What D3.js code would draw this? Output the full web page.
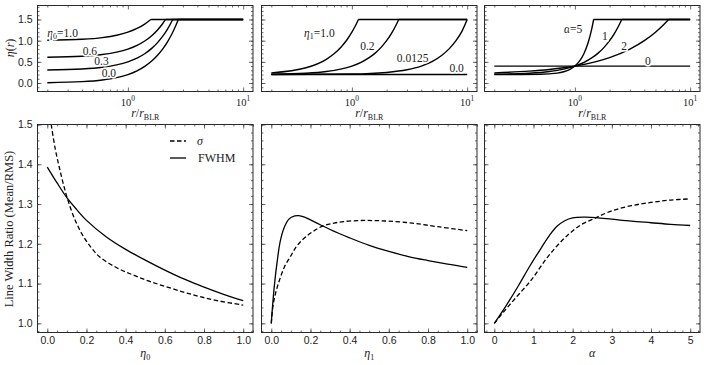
<!DOCTYPE html>
<html>
<head>
<meta charset="utf-8">
<script src="https://cdn.jsdelivr.net/npm/d3@7"></script>
<style>
  body { margin: 0; background: #fff; }
  svg { display: block; font-family: "Liberation Serif", "Times New Roman", serif; }
  .tick line { stroke: #444; stroke-width: 0.8; }
  .tick text { fill: #222; font-size: 10.5px; }
  .lbl { fill: #222; }
</style>
</head>
<body>
<script>
// ---- data ----
// top row: eta(r) profiles, [r/r_BLR, eta]
const etaA_10 = [[0.2,1.008],[0.4,1.032],[0.6,1.072],[0.8,1.128],[1.0,1.2],[1.2,1.288],[1.4,1.392],[1.58,1.5],[10,1.5]];
const etaA_06 = [[0.2,0.608],[0.4,0.632],[0.6,0.672],[0.8,0.728],[1.0,0.8],[1.2,0.888],[1.4,0.992],[1.6,1.112],[1.8,1.248],[2.0,1.4],[2.12,1.5],[10,1.5]];
const etaA_03 = [[0.2,0.308],[0.4,0.332],[0.6,0.372],[0.8,0.428],[1.0,0.5],[1.2,0.588],[1.4,0.692],[1.6,0.812],[1.8,0.948],[2.0,1.1],[2.2,1.268],[2.45,1.5],[10,1.5]];
const etaA_00 = [[0.2,0.008],[0.4,0.032],[0.6,0.072],[0.8,0.128],[1.0,0.2],[1.2,0.288],[1.4,0.392],[1.6,0.512],[1.8,0.648],[2.0,0.8],[2.2,0.968],[2.4,1.152],[2.6,1.352],[2.74,1.5],[10,1.5]];

const etaB_10 = [[0.2,0.24],[0.4,0.36],[0.6,0.56],[0.7,0.69],[0.8,0.84],[0.9,1.01],[1.0,1.2],[1.07,1.345],[1.14,1.5],[10,1.5]];
const etaB_02 = [[0.2,0.208],[0.4,0.232],[0.6,0.272],[0.8,0.328],[1.0,0.4],[1.2,0.488],[1.4,0.592],[1.6,0.712],[1.8,0.848],[2.0,1.0],[2.2,1.168],[2.4,1.352],[2.55,1.5],[10,1.5]];
const etaB_0125 = [[0.2,0.2005],[1.0,0.2125],[2.0,0.25],[3.0,0.312],[4.0,0.4],[5.0,0.512],[6.0,0.65],[7.0,0.812],[8.0,1.0],[9.0,1.22],[10,1.5]];
const etaB_00 = [[0.2,0.2],[10,0.2]];

const etaC_5 = [[0.2,0.2001],[0.5,0.206],[0.7,0.234],[0.8,0.266],[0.9,0.318],[1.0,0.4],[1.1,0.522],[1.2,0.698],[1.3,0.943],[1.4,1.276],[1.454,1.5],[10,1.5]];
const etaC_2 = [[0.2,0.208],[0.4,0.232],[0.6,0.272],[0.8,0.328],[1.0,0.4],[1.2,0.488],[1.4,0.592],[1.6,0.712],[1.8,0.848],[2.0,1.0],[2.2,1.168],[2.4,1.352],[2.55,1.5],[10,1.5]];
const etaC_1 = [[0.2,0.24],[0.4,0.28],[0.6,0.32],[0.8,0.36],[1.0,0.4],[1.5,0.5],[2,0.6],[3,0.8],[4,1.0],[5,1.2],[6,1.4],[6.5,1.5],[10,1.5]];
const etaC_0 = [[0.2,0.4],[10,0.4]];

// bottom row: line width ratio, sigma (dashed) and FWHM (solid)
const sigEta0  = [[0.02,1.50],[0.04,1.44],[0.06,1.395],[0.08,1.354],[0.105,1.31],[0.14,1.262],[0.18,1.222],[0.22,1.193],[0.265,1.168],[0.35,1.141],[0.436,1.122],[0.52,1.106],[0.607,1.092],[0.7,1.078],[0.78,1.067],[0.88,1.056],[1.0,1.046]];
const fwhmEta0 = [[0,1.393],[0.05,1.353],[0.1,1.316],[0.15,1.286],[0.2,1.259],[0.3,1.218],[0.4,1.186],[0.5,1.159],[0.6,1.134],[0.7,1.111],[0.8,1.091],[0.9,1.073],[1.0,1.057]];
const sigEta1  = [[0,1.0],[0.008,1.042],[0.022,1.076],[0.042,1.109],[0.068,1.143],[0.1,1.17],[0.128,1.193],[0.17,1.215],[0.213,1.231],[0.264,1.245],[0.32,1.252],[0.37,1.256],[0.45,1.2585],[0.52,1.2585],[0.6,1.257],[0.72,1.252],[0.85,1.243],[1.0,1.233]];
const fwhmEta1 = [[0,1.0],[0.01,1.065],[0.02,1.115],[0.03,1.155],[0.045,1.205],[0.065,1.24],[0.09,1.262],[0.12,1.27],[0.14,1.271],[0.17,1.267],[0.2,1.26],[0.25,1.248],[0.3,1.236],[0.4,1.215],[0.5,1.196],[0.6,1.181],[0.7,1.168],[0.8,1.158],[0.9,1.149],[1.0,1.141]];
const sigAlpha  = [[0,1.0],[0.3,1.036],[0.6,1.07],[0.95,1.11],[1.37,1.168],[1.8,1.215],[2.2,1.247],[2.56,1.264],[3.0,1.283],[3.5,1.296],[4.0,1.304],[4.5,1.31],[5.0,1.313]];
const fwhmAlpha = [[0,1.0],[0.3,1.044],[0.6,1.092],[0.9,1.143],[1.2,1.19],[1.4,1.22],[1.6,1.244],[1.8,1.258],[2.0,1.265],[2.3,1.267],[2.6,1.266],[3.0,1.262],[3.5,1.257],[4.0,1.253],[4.5,1.249],[5.0,1.246]];

// ticks
const rMajor = [1, 10];
const rMinor = [0.2,0.3,0.4,0.5,0.6,0.7,0.8,0.9,2,3,4,5,6,7,8,9];
const etaMajor = [0, 0.5, 1.0, 1.5];
const etaMinor = d3.range(-0.1, 1.81, 0.1);
const ratioMajor = [1.0, 1.1, 1.2, 1.3, 1.4, 1.5];
const ratioMinor = d3.range(0.98, 1.501, 0.02);
const unitMajor = [0, 0.2, 0.4, 0.6, 0.8, 1.0];
const unitMinor = d3.range(-0.05, 1.051, 0.05);
const alphaMajor = [0, 1, 2, 3, 4, 5];
const alphaMinor = d3.range(-0.2, 5.21, 0.2);

// ---- layout ----
const width = 706, height = 365;
const cols = [37.5, 261.5, 484.5], pw = 215.5;
const topRow = [91.5, 5.5], botRow = [332.5, 124.5];

const svg = d3.select("body").append("svg").attr("width", width).attr("height", height);

let clipId = 0;
function inside(sc, vals) {
  const [a, b] = d3.extent(sc.domain());
  return vals.filter(v => v >= a - 1e-9 && v <= b + 1e-9);
}
function axesFrame(x, y, o) {
  const [x0, x1] = x.range(), [yb, yt] = y.range();
  const g = svg.append("g");
  const fmtX = o.xFmt || (() => "");
  const fmtY = o.yFmt || (() => "");
  const xMin = inside(x, o.xMinor), xMaj = inside(x, o.xMajor);
  const yMin = inside(y, o.yMinor), yMaj = inside(y, o.yMajor);
  g.append("g").attr("transform", `translate(0,${yb})`)
    .call(d3.axisBottom(x).tickValues(xMin).tickSize(-2).tickSizeOuter(0).tickFormat(""));
  g.append("g").attr("transform", `translate(0,${yb})`)
    .call(d3.axisBottom(x).tickValues(xMaj).tickSize(-4).tickSizeOuter(0).tickPadding(4).tickFormat(fmtX));
  g.append("g").attr("transform", `translate(0,${yt})`)
    .call(d3.axisTop(x).tickValues(xMin).tickSize(-2).tickSizeOuter(0).tickFormat(""));
  g.append("g").attr("transform", `translate(0,${yt})`)
    .call(d3.axisTop(x).tickValues(xMaj).tickSize(-4).tickSizeOuter(0).tickFormat(""));
  g.append("g").attr("transform", `translate(${x0},0)`)
    .call(d3.axisLeft(y).tickValues(yMin).tickSize(-2).tickSizeOuter(0).tickFormat(""));
  g.append("g").attr("transform", `translate(${x0},0)`)
    .call(d3.axisLeft(y).tickValues(yMaj).tickSize(-4).tickSizeOuter(0).tickPadding(5).tickFormat(fmtY));
  g.append("g").attr("transform", `translate(${x1},0)`)
    .call(d3.axisRight(y).tickValues(yMin).tickSize(-2).tickSizeOuter(0).tickFormat(""));
  g.append("g").attr("transform", `translate(${x1},0)`)
    .call(d3.axisRight(y).tickValues(yMaj).tickSize(-4).tickSizeOuter(0).tickFormat(""));
  g.selectAll(".domain").remove();
  g.selectAll("text").attr("font-family", null).attr("font-size", null);
  g.append("rect").attr("x", x0).attr("y", yt).attr("width", x1 - x0).attr("height", yb - yt)
    .attr("fill", "none").attr("stroke", "#2a2a2a").attr("stroke-width", 1);

  const id = "clip" + (clipId++);
  svg.append("clipPath").attr("id", id).append("rect")
    .attr("x", x0).attr("y", yt).attr("width", x1 - x0).attr("height", yb - yt);
  return svg.append("g").attr("clip-path", `url(#${id})`);
}

// ---- top row ----
function topPanel(i, curves, showY) {
  const x = d3.scaleLog().domain([0.1644, 12.17]).range([cols[i], cols[i] + pw]);
  const y = d3.scaleLinear().domain([-0.2, 1.83]).range(topRow);
  const plot = axesFrame(x, y, {
    xMajor: rMajor, xMinor: rMinor, yMajor: etaMajor, yMinor: etaMinor,
    yFmt: showY ? d3.format(".1f") : null
  });
  // log tick labels 10^k
  rMajor.forEach(v => {
    const t = svg.append("text").attr("class", "lbl").attr("x", x(v)).attr("y", topRow[0] + 14)
      .attr("text-anchor", "middle").attr("font-size", 10.5);
    t.append("tspan").text("10");
    t.append("tspan").attr("dy", -4.5).attr("font-size", 7.5).text(Math.round(Math.log10(v)));
  });
  // x label r / r_BLR
  const xl = svg.append("text").attr("class", "lbl").attr("x", cols[i] + pw / 2).attr("y", 117)
    .attr("text-anchor", "middle").attr("font-size", 12);
  xl.append("tspan").attr("font-style", "italic").text("r");
  xl.append("tspan").text("/");
  xl.append("tspan").attr("font-style", "italic").text("r");
  xl.append("tspan").attr("dy", 2.5).attr("font-size", 8).text("BLR");

  const line = d3.line().x(d => x(d[0])).y(d => y(d[1]));
  curves.forEach(pts => {
    const k = pts.findIndex(d => d[1] >= 1.5);
    let d;
    if (k > 0) d = line.curve(d3.curveMonotoneX)(pts.slice(0, k + 1)) + line.curve(d3.curveLinear)(pts.slice(k));
    else d = line.curve(d3.curveLinear)(pts);
    plot.append("path").attr("d", d).attr("fill", "none").attr("stroke", "#000").attr("stroke-width", 1.4);
  });
  return { x, y };
}

function note(sc, r, v, parts, anchor) {
  const t = svg.append("text").attr("class", "lbl").attr("x", sc.x(r)).attr("y", sc.y(v))
    .attr("font-size", 11.5).attr("text-anchor", anchor || "start")
    .attr("stroke", "#fff").attr("stroke-width", 3).attr("paint-order", "stroke");
  parts.forEach(p => {
    const s = t.append("tspan").text(p.t);
    if (p.i) s.attr("font-style", "italic");
    if (p.sub) s.attr("font-size", 8).attr("dy", 2.5);
    if (p.up) s.attr("dy", -2.5);
  });
}

const p1 = topPanel(0, [etaA_10, etaA_06, etaA_03, etaA_00], true);
note(p1, 0.2, 1.09, [{ t: "η", i: 1 }, { t: "0", sub: 1 }, { t: "=1.0", up: 1 }]);
note(p1, 0.405, 0.662, [{ t: "0.6" }]);
note(p1, 0.512, 0.425, [{ t: "0.3" }]);
note(p1, 0.593, 0.149, [{ t: "0.0" }]);

const p2 = topPanel(1, [etaB_10, etaB_02, etaB_0125, etaB_00], false);
note(p2, 0.385, 1.098, [{ t: "η", i: 1 }, { t: "1", sub: 1 }, { t: "=1.0", up: 1 }]);
note(p2, 1.18, 0.78, [{ t: "0.2" }]);
note(p2, 2.45, 0.503, [{ t: "0.0125" }]);
note(p2, 7.02, 0.267, [{ t: "0.0" }]);

const p3 = topPanel(2, [etaC_5, etaC_2, etaC_1, etaC_0], false);
note(p3, 0.805, 1.174, [{ t: "α", i: 1 }, { t: "=5" }]);
note(p3, 1.82, 1.016, [{ t: "1" }], "middle");
note(p3, 2.67, 0.78, [{ t: "2" }], "middle");
note(p3, 4.29, 0.425, [{ t: "0" }], "middle");

// y label, top row
const yl1 = svg.append("text").attr("class", "lbl").attr("transform", "translate(14,48) rotate(-90)")
  .attr("text-anchor", "middle").attr("font-size", 12);
yl1.append("tspan").attr("font-style", "italic").text("η");
yl1.append("tspan").text("(");
yl1.append("tspan").attr("font-style", "italic").text("r");
yl1.append("tspan").text(")");

// ---- bottom row ----
function botPanel(i, dom, major, minor, fmt, sig, fwhm, showY, xlab) {
  const x = d3.scaleLinear().domain(dom).range([cols[i], cols[i] + pw]);
  const y = d3.scaleLinear().domain([0.977, 1.5]).range(botRow);
  const plot = axesFrame(x, y, {
    xMajor: major, xMinor: minor, yMajor: ratioMajor, yMinor: ratioMinor,
    xFmt: fmt, yFmt: showY ? d3.format(".1f") : null
  });
  const line = d3.line().x(d => x(d[0])).y(d => y(d[1])).curve(d3.curveCatmullRom.alpha(0.5));
  plot.append("path").attr("d", line(sig)).attr("fill", "none").attr("stroke", "#000")
    .attr("stroke-width", 1.3).attr("stroke-dasharray", "4.5,2.5");
  plot.append("path").attr("d", line(fwhm)).attr("fill", "none").attr("stroke", "#000")
    .attr("stroke-width", 1.3);
  const xl = svg.append("text").attr("class", "lbl").attr("x", cols[i] + pw / 2).attr("y", 357)
    .attr("text-anchor", "middle").attr("font-size", 12);
  xl.append("tspan").attr("font-style", "italic").text(xlab[0]);
  if (xlab[1]) xl.append("tspan").attr("dy", 2.5).attr("font-size", 8).text(xlab[1]);
  return { x, y };
}

botPanel(0, [-0.05, 1.05], unitMajor, unitMinor, d3.format(".1f"), sigEta0, fwhmEta0, true, ["η", "0"]);
botPanel(1, [-0.05, 1.05], unitMajor, unitMinor, d3.format(".1f"), sigEta1, fwhmEta1, false, ["η", "1"]);
botPanel(2, [-0.25, 5.25], alphaMajor, alphaMinor, d3.format("d"), sigAlpha, fwhmAlpha, false, ["α"]);

svg.append("text").attr("class", "lbl").attr("transform", "translate(13,229) rotate(-90)")
  .attr("text-anchor", "middle").attr("font-size", 12.5).text("Line Width Ratio (Mean/RMS)");

// legend
const leg = svg.append("g").attr("transform", "translate(170,0)");
leg.append("line").attr("x1", 0).attr("x2", 16).attr("y1", 141).attr("y2", 141)
  .attr("stroke", "#000").attr("stroke-width", 1.3).attr("stroke-dasharray", "4.5,2.5");
leg.append("text").attr("class", "lbl").attr("x", 27).attr("y", 145).attr("font-size", 12)
  .attr("font-style", "italic").text("σ");
leg.append("line").attr("x1", 0).attr("x2", 16).attr("y1", 158).attr("y2", 158)
  .attr("stroke", "#000").attr("stroke-width", 1.3);
leg.append("text").attr("class", "lbl").attr("x", 28).attr("y", 162).attr("font-size", 12).text("FWHM");
</script>
</body>
</html>
